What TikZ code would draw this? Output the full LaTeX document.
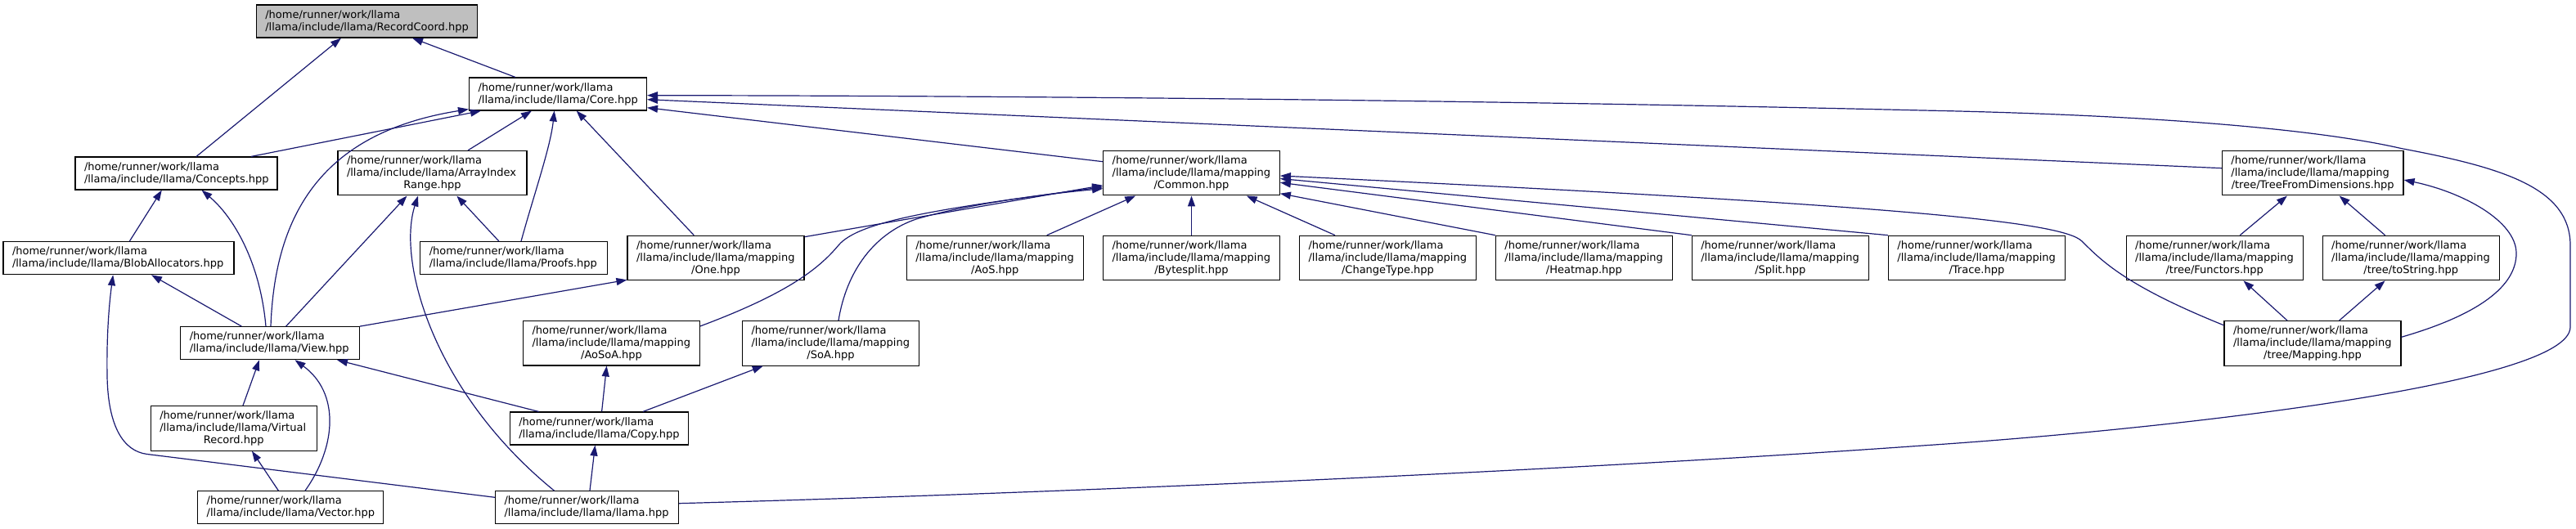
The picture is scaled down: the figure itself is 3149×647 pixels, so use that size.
\documentclass[tikz,border=0pt]{standalone}
\usepackage{fontspec}
\setmainfont{DejaVu Sans}
\usetikzlibrary{arrows.meta}
\definecolor{midblue}{HTML}{191970}
\definecolor{rootgray}{HTML}{BFBFBF}
\newcommand\nfont{\fontsize{13}{15}\selectfont\hyphenpenalty=10000\exhyphenpenalty=10000 }
\newcommand\ctr[1]{\hspace*{\fill}#1\hspace*{\fill}\null}
\tikzset{
  file/.style={draw=black, line width=1.1pt, fill=white, inner sep=0pt,
    font=\nfont, align=left, minimum height=40pt},
  filethree/.style={file, minimum height=54.5pt},
  rootfile/.style={file, fill=rootgray},
  edge/.style={draw=midblue, line width=1.2pt, -{Triangle[length=13pt,width=9pt]}}
}
\begin{document}
\begin{tikzpicture}[x=1pt,y=-1pt]
\useasboundingbox (0,0) rectangle (3149,647);
% row 0
\node[rootfile, minimum width=270.5pt, text width=248.5pt] (rc) at (448.6,26) {/home/runner/work/llama\\/llama/include/llama/RecordCoord.hpp};
% row 1
\node[file, minimum width=217pt, text width=195pt] (core) at (682,115) {/home/runner/work/llama\\/llama/include/llama/Core.hpp};
% row 2
\node[file, minimum width=247pt, text width=225pt] (concepts) at (215.5,212) {/home/runner/work/llama\\/llama/include/llama/Concepts.hpp};
\node[filethree, minimum width=231pt, text width=209pt] (air) at (528.5,211.7) {/home/runner/work/llama\\/llama/include/llama/ArrayIndex\\\ctr{Range.hpp}};
\node[filethree, minimum width=215.7pt, text width=193.7pt] (common) at (1456.5,211.7) {/home/runner/work/llama\\/llama/include/llama/mapping\\\ctr{/Common.hpp}};
\node[filethree, minimum width=221.6pt, text width=199.6pt] (tfd) at (2827.2,211.7) {/home/runner/work/llama\\/llama/include/llama/mapping\\\ctr{/tree/TreeFromDimensions.hpp}};
% row 3
\node[file, minimum width=282pt, text width=260pt] (blob) at (145,315.7) {/home/runner/work/llama\\/llama/include/llama/BlobAllocators.hpp};
\node[file, minimum width=228.7pt, text width=206.7pt] (proofs) at (628.2,315.7) {/home/runner/work/llama\\/llama/include/llama/Proofs.hpp};
\node[filethree, minimum width=216pt, text width=194pt] (one) at (875,315.5) {/home/runner/work/llama\\/llama/include/llama/mapping\\\ctr{/One.hpp}};
\node[filethree, minimum width=216pt, text width=194pt] (aos) at (1216.3,315.5) {/home/runner/work/llama\\/llama/include/llama/mapping\\\ctr{/AoS.hpp}};
\node[filethree, minimum width=216pt, text width=194pt] (bytesplit) at (1456.5,315.5) {/home/runner/work/llama\\/llama/include/llama/mapping\\\ctr{/Bytesplit.hpp}};
\node[filethree, minimum width=216pt, text width=194pt] (changetype) at (1696.5,315.5) {/home/runner/work/llama\\/llama/include/llama/mapping\\\ctr{/ChangeType.hpp}};
\node[filethree, minimum width=216pt, text width=194pt] (heatmap) at (1936.4,315.5) {/home/runner/work/llama\\/llama/include/llama/mapping\\\ctr{/Heatmap.hpp}};
\node[filethree, minimum width=216pt, text width=194pt] (split) at (2176.3,315.5) {/home/runner/work/llama\\/llama/include/llama/mapping\\\ctr{/Split.hpp}};
\node[filethree, minimum width=216pt, text width=194pt] (trace) at (2416.4,315.5) {/home/runner/work/llama\\/llama/include/llama/mapping\\\ctr{/Trace.hpp}};
\node[filethree, minimum width=216pt, text width=194pt] (functors) at (2707.2,315.5) {/home/runner/work/llama\\/llama/include/llama/mapping\\\ctr{/tree/Functors.hpp}};
\node[filethree, minimum width=216pt, text width=194pt] (tostring) at (2947.2,315.5) {/home/runner/work/llama\\/llama/include/llama/mapping\\\ctr{/tree/toString.hpp}};
% row 4
\node[file, minimum width=218.5pt, text width=196.5pt] (view) at (330,419.7) {/home/runner/work/llama\\/llama/include/llama/View.hpp};
\node[filethree, minimum width=216pt, text width=194pt] (aosoa) at (747.5,419.7) {/home/runner/work/llama\\/llama/include/llama/mapping\\\ctr{/AoSoA.hpp}};
\node[filethree, minimum width=216pt, text width=194pt] (soa) at (1015.5,419.8) {/home/runner/work/llama\\/llama/include/llama/mapping\\\ctr{/SoA.hpp}};
\node[filethree, minimum width=216pt, text width=194pt] (mapping) at (2827,419.8) {/home/runner/work/llama\\/llama/include/llama/mapping\\\ctr{/tree/Mapping.hpp}};
% row 5
\node[filethree, minimum width=202.7pt, text width=180.7pt] (vr) at (285.7,523.8) {/home/runner/work/llama\\/llama/include/llama/Virtual\\\ctr{Record.hpp}};
\node[file, minimum width=218.5pt, text width=196.5pt] (copy) at (732.6,524) {/home/runner/work/llama\\/llama/include/llama/Copy.hpp};
% row 6
\node[file, minimum width=226.6pt, text width=204.6pt] (vector) at (355,620.7) {/home/runner/work/llama\\/llama/include/llama/Vector.hpp};
\node[file, minimum width=224pt, text width=202pt] (llama) at (717.5,620.7) {/home/runner/work/llama\\/llama/include/llama/llama.hpp};

% edges
\draw[edge] ([xshift=24.5pt]concepts.north) -- ([xshift=-31.6pt]rc.south);
\draw[edge] ([xshift=-52pt]core.north) -- ([xshift=55.4pt]rc.south);
\draw[edge] ([xshift=91.5pt]concepts.north) -- ([xshift=-94pt]core.south);
\draw[edge] ([xshift=1pt]view.north) .. controls (336,260) and (395,162) .. ([yshift=2pt]core.south west);
\draw[edge] ([xshift=-5pt]view.north) .. controls (318,320) and (285,265) .. ([xshift=31pt]concepts.south);
\draw[edge] ([xshift=43.5pt]air.north) -- ([xshift=-32pt]core.south);
\draw[edge] ([xshift=8.8pt]proofs.north) .. controls (652,240) and (673,180) .. ([xshift=-4.4pt]core.south);
\draw[edge] ([xshift=-26.7pt]one.north) -- ([xshift=22.7pt]core.south);
\draw[edge] ([yshift=14pt]common.west) -- ([yshift=-16.7pt]core.east);
\draw[edge] ([yshift=6pt]tfd.west) -- ([yshift=-6.7pt]core.east);
\draw[edge] ([yshift=5pt]llama.east) .. controls (1400,600) and (2000,570) .. (2350,545)
  .. controls (2650,525) and (3142,470) .. (3142,400) -- (3142,300)
  .. controls (3142,230) and (3060,205) .. (2936,181.7)
  .. controls (2820,155) and (2600,140) .. (2350,135)
  .. controls (1800,122) and (1200,117) .. ([yshift=-1.7pt]core.east);
\draw[edge] ([yshift=12.4pt]llama.west) -- (180,555.5) .. controls (150,551.8) and (132,520) .. (131,460)
  .. controls (130,400) and (135,360) .. ([xshift=-6.8pt]blob.south);
\draw[edge] ([xshift=-34.6pt]view.north) -- ([xshift=40pt]blob.south);
\draw[edge] ([xshift=13.3pt]blob.north) -- ([xshift=-17.7pt]concepts.south);
\draw[edge] ([xshift=19.6pt]view.north) -- ([xshift=-31pt]air.south);
\draw[edge] ([xshift=-40pt]llama.north) .. controls (530,480) and (485,320) .. ([xshift=-17.5pt]air.south);
\draw[edge] ([xshift=-18.2pt]proofs.north) -- ([xshift=29.8pt]air.south);
\draw[edge] ([yshift=-2pt]one.north east) -- ([yshift=-15pt]common.west);
\draw[edge] ([yshift=-7pt]aosoa.north east) .. controls (960,360) and (1000,330) .. (1025,300)
  .. controls (1050,270) and (1150,255) .. ([yshift=-17pt]common.west);
\draw[edge] ([xshift=9.5pt]soa.north) .. controls (1035,330) and (1070,285) .. (1120,268)
  .. controls (1180,250) and (1280,237) .. ([yshift=-19pt]common.west);
\draw[edge] (view.north east) -- ([yshift=1pt]one.south west);
\draw[edge] ([xshift=63.4pt]aos.north) -- ([xshift=-68.3pt]common.south);
\draw[edge] (bytesplit.north) -- (common.south);
\draw[edge] ([xshift=-64.5pt]changetype.north) -- ([xshift=67.2pt]common.south);
\draw[edge] (heatmap.north west) -- ([yshift=-25pt]common.east);
\draw[edge] (split.north west) -- ([yshift=-11.6pt]common.east);
\draw[edge] (trace.north west) -- ([yshift=-6.8pt]common.east);
\draw[edge] ([yshift=22pt]mapping.west) .. controls (2600,350) and (2570,320) .. (2545,295)
  .. controls (2520,270) and (2300,250) .. ([yshift=-3.3pt]common.east);
\draw[edge] ([xshift=31pt]functors.north) -- ([xshift=-31.3pt]tfd.south);
\draw[edge] ([xshift=-31.6pt]tostring.north) -- ([xshift=32.4pt]tfd.south);
\draw[edge] ([yshift=7.5pt]mapping.east) .. controls (3030,385) and (3076,350) .. (3076,310)
  .. controls (3076,270) and (3010,235) .. ([yshift=-8.3pt]tfd.east);
\draw[edge] ([xshift=-31pt]mapping.north) -- ([xshift=35.2pt]functors.south);
\draw[edge] ([xshift=32.6pt]mapping.north) -- ([xshift=-31.6pt]tostring.south);
\draw[edge] ([xshift=11.3pt]vr.north) -- ([xshift=-13pt]view.south);
\draw[edge] ([xshift=18pt]vector.north) .. controls (412,545) and (415,480) .. ([xshift=30.5pt]view.south);
\draw[edge] ([xshift=-74pt]copy.north) -- ([xshift=82pt]view.south);
\draw[edge] ([xshift=-14.6pt]vector.north) -- ([xshift=22.2pt]vr.south);
\draw[edge] ([xshift=3.5pt]llama.north) -- ([xshift=-5.1pt]copy.south);
\draw[edge] ([xshift=3pt]copy.north) -- ([xshift=-5.9pt]aosoa.south);
\draw[edge] ([xshift=53.4pt]copy.north) -- ([xshift=-82.7pt]soa.south);
\end{tikzpicture}
\end{document}
